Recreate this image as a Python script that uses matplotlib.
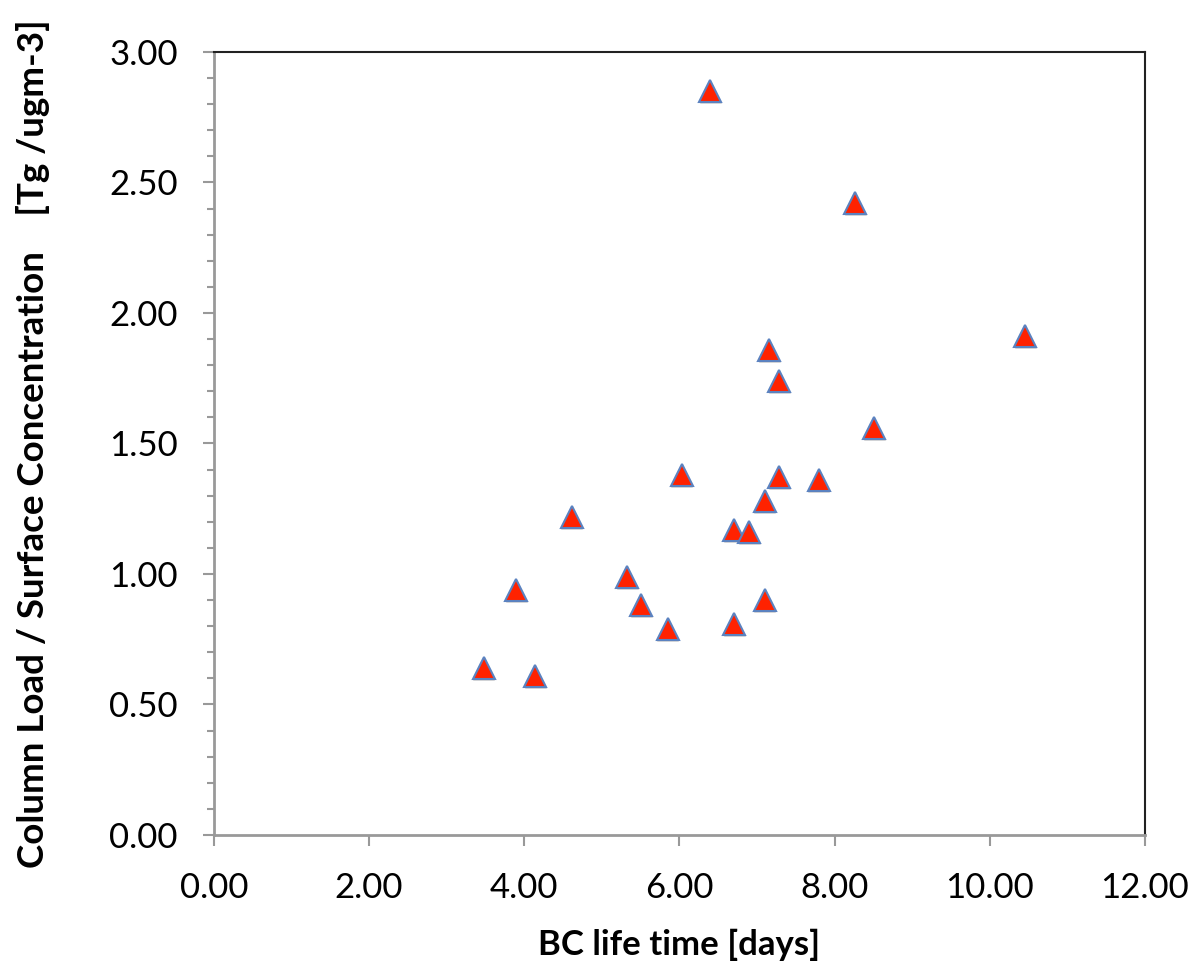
import matplotlib
matplotlib.use("Agg")
import matplotlib.pyplot as plt
import matplotlib.transforms as mtransforms
from matplotlib.ticker import MultipleLocator, FormatStrFormatter

# BC lifetime [days] vs column load / surface concentration ratio
lifetime = [6.40, 8.27, 10.46, 7.16, 7.29, 8.51, 6.03, 7.29, 7.80, 7.10, 4.61,
            6.71, 6.90, 5.33, 3.90, 7.10, 5.51, 6.71, 5.85, 3.48, 4.14]
ratio = [2.85, 2.42, 1.91, 1.86, 1.74, 1.56, 1.38, 1.37, 1.36, 1.28, 1.22,
         1.17, 1.16, 0.99, 0.94, 0.90, 0.88, 0.81, 0.79, 0.64, 0.61]

x_label = "BC life time [days]"
y_label = "Column Load / Surface Concentration    [Tg /ugm-3]"

plt.rcParams['font.family'] = ['Lato', 'DejaVu Sans']

fig = plt.figure(figsize=(11.95, 9.63), dpi=100)
ax = fig.add_axes([0.179, 0.133, 0.779, 0.813])

# soft drop shadow under each marker
shadow = mtransforms.offset_copy(ax.transData, fig=fig, x=0.5, y=-2.0, units='dots')
ax.plot(lifetime, ratio, linestyle='none', marker='^', markersize=16,
        color='#b0b0b0', alpha=0.5, markeredgewidth=0, transform=shadow, zorder=2)
ax.plot(lifetime, ratio, linestyle='none', marker='^', markersize=16,
        markerfacecolor='#ff2200', markeredgecolor='#5b82c0',
        markeredgewidth=1.5, zorder=3, clip_on=False)

ax.set_xlim(0, 12)
ax.set_ylim(0, 3)
ax.xaxis.set_major_locator(MultipleLocator(2))
ax.yaxis.set_major_locator(MultipleLocator(0.5))
ax.yaxis.set_minor_locator(MultipleLocator(0.1))
ax.xaxis.set_major_formatter(FormatStrFormatter('%.2f'))
ax.yaxis.set_major_formatter(FormatStrFormatter('%.2f'))

for side in ['left', 'bottom']:
    ax.spines[side].set_color('#999999')
    ax.spines[side].set_linewidth(2.0)
for side in ['top', 'right']:
    ax.spines[side].set_color('#222222')
    ax.spines[side].set_linewidth(1.5)

ax.tick_params(axis='both', which='major', direction='out', length=8,
               width=1.5, color='#999999', labelsize=25, labelcolor='black')
ax.tick_params(axis='y', which='minor', direction='out', length=5,
               width=1.5, color='#999999')
ax.tick_params(axis='x', pad=19)
ax.tick_params(axis='y', pad=18)

ax.set_xlabel(x_label, fontsize=25, fontweight='bold')
ax.set_ylabel(y_label, fontsize=26.5, fontweight='bold')
ax.xaxis.set_label_coords(0.5, -0.120)
ax.yaxis.set_label_coords(-0.176, 0.5)

fig.savefig("out.png", dpi=100, facecolor='white')
